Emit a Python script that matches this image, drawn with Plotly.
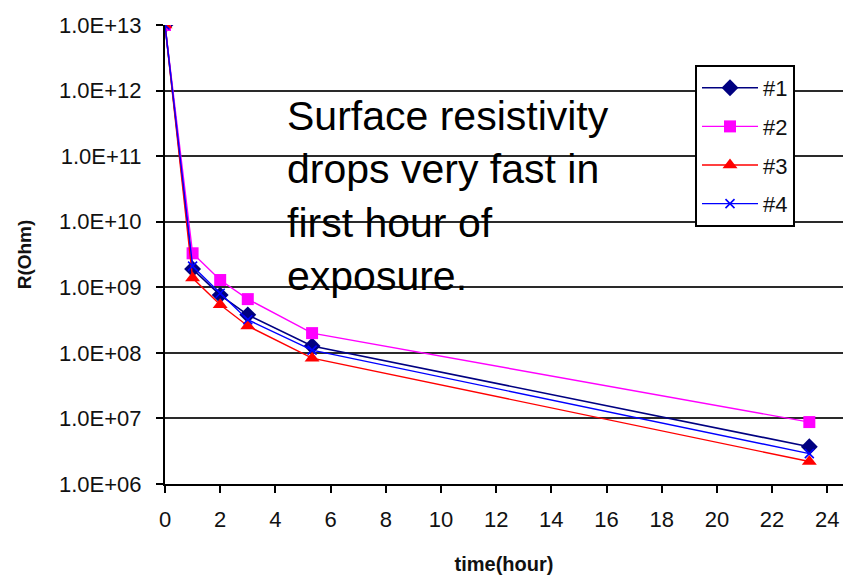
import plotly.graph_objects as go

time_h = [0, 1, 2, 3, 5.33, 23.35]
r1 = [1.0e13, 1.9e9, 7.6e8, 3.8e8, 1.27e8, 3.7e6]
r2 = [1.0e13, 3.3e9, 1.29e9, 6.6e8, 2.0e8, 8.8e6]
r3 = [1.0e13, 1.38e9, 5.4e8, 2.57e8, 8.3e7, 2.2e6]
r4 = [1.0e13, 2.1e9, 8.1e8, 3.2e8, 1.1e8, 2.9e6]

series = [
    ("#1", r1, "#000080", "diamond", 13, 1.6),
    ("#2", r2, "#FF00FF", "square", 12, 1.4),
    ("#3", r3, "#FF0000", "triangle-up", 13, 1.4),
    ("#4", r4, "#0000FF", "x-thin", 9, 1.4),
]

y_ticks = [1e6, 1e7, 1e8, 1e9, 1e10, 1e11, 1e12, 1e13]
y_tick_text = ["1.0E+06", "1.0E+07", "1.0E+08", "1.0E+09", "1.0E+10", "1.0E+11", "1.0E+12", "1.0E+13"]
x_ticks = list(range(0, 25, 2))

note = "Surface resistivity<br>drops very fast in<br>first hour of<br>exposure."

fig = go.Figure()
for i, (name, vals, col, sym, size, lw) in enumerate(series):
    marker = dict(symbol=sym, size=size, color=col)
    if sym == "x-thin":
        marker["line"] = dict(color=col, width=1.6)
    fig.add_trace(go.Scatter(
        x=time_h, y=vals, name=name, mode="lines+markers",
        line=dict(color=col, width=lw), marker=marker,
        legendgroup=f"g{i}",
    ))

fig.add_annotation(
    x=(285 - 165) / 678, y=0.628, xref="paper", yref="paper",
    text=note, showarrow=False, xanchor="left", yanchor="middle", align="left",
    font=dict(family="Liberation Sans, Arial, sans-serif", size=41, color="black"),
)

fig.update_layout(
    width=843, height=576,
    margin=dict(l=165, r=0, t=25, b=92),
    paper_bgcolor="white", plot_bgcolor="white",
    font=dict(family="Liberation Sans, Arial, sans-serif", color="#111111"),
    showlegend=True,
    legend=dict(
        x=(695 - 165) / 678, y=(484 - 65) / 459, xanchor="left", yanchor="top",
        bgcolor="white", bordercolor="black", borderwidth=2,
        font=dict(size=22, color="#111111"), tracegroupgap=7, itemwidth=56,
    ),
    xaxis=dict(
        range=[0, 24.57], tickvals=x_ticks, ticks="outside", ticklen=7, tickwidth=1.5,
        tickcolor="black", showline=True, linecolor="black", linewidth=2,
        showgrid=False, zeroline=False, tickfont=dict(size=22),
        ticklabelstandoff=8,
        title=dict(text="<b>time(hour)</b>", font=dict(size=20), standoff=26),
    ),
    yaxis=dict(
        type="log", range=[6, 13], tickvals=y_ticks, ticktext=y_tick_text,
        ticks="outside", ticklen=7, tickwidth=1.5, tickcolor="black",
        showline=True, linecolor="black", linewidth=2,
        showgrid=True, gridcolor="#2a2a2a", gridwidth=2, zeroline=False,
        tickfont=dict(size=22), ticklabelstandoff=10,
        title=dict(text="<b>R(Ohm)</b>", font=dict(size=19), standoff=22),
    ),
)

fig.write_html("out.html")
